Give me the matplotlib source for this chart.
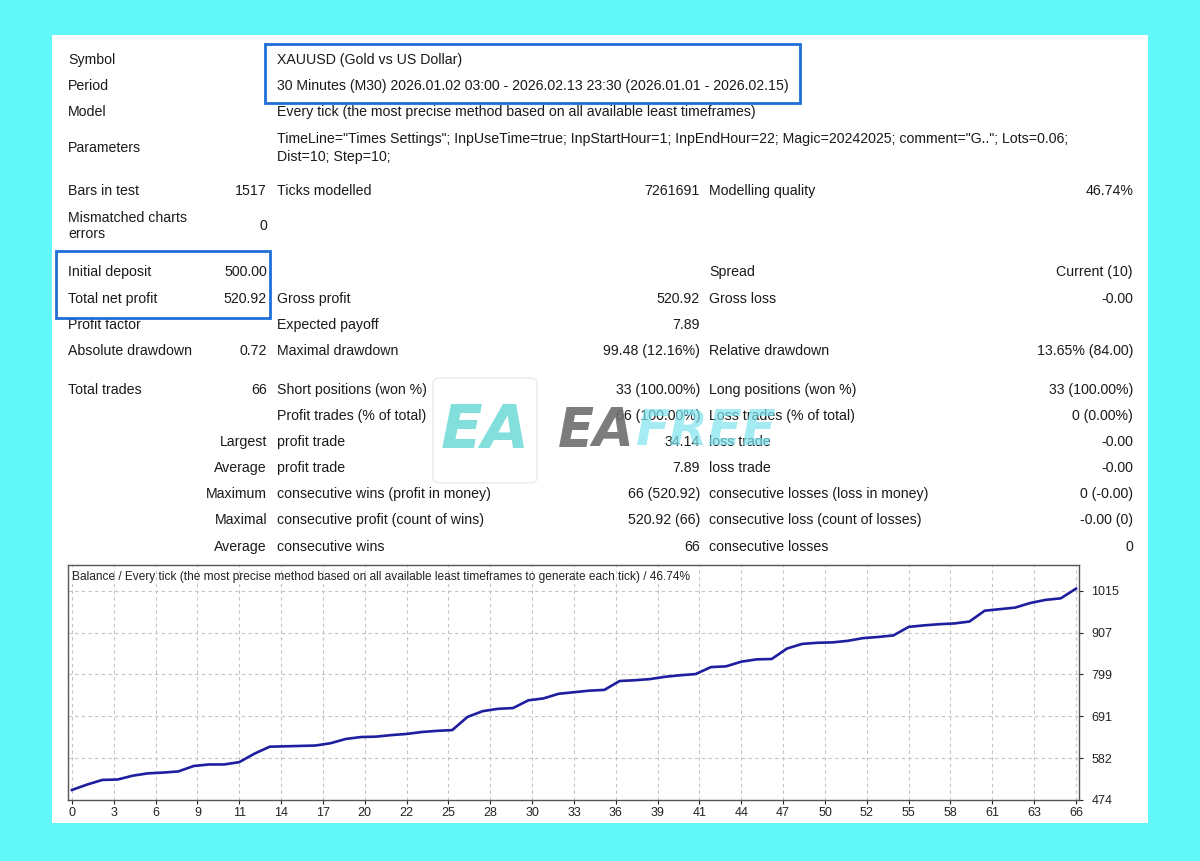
import matplotlib
matplotlib.use("Agg")
import matplotlib.pyplot as plt
from matplotlib.patches import Rectangle, FancyBboxPatch

W, H = 1200, 861
plt.rcParams['font.family'] = ['Liberation Sans', 'DejaVu Sans']

# ---------------- data ----------------
balance = [500.0, 514, 526, 527, 537, 543, 545, 548, 562, 566, 566, 572, 594, 612, 613,
           614, 615, 621, 632, 637, 638, 642, 645, 650, 653, 655, 689, 704, 710, 712,
           732, 737, 749, 753, 757, 759, 782, 784, 787, 793, 797, 800, 818, 820, 832,
           838, 839, 866, 878, 881, 882, 886, 893, 896, 900, 922, 926, 929, 931, 936,
           964, 968, 972, 984, 992, 996, 1020.92]
x_tick_labels = ["0", "3", "6", "9", "11", "14", "17", "20", "22", "25", "28", "30", "33",
                 "36", "39", "41", "44", "47", "50", "52", "55", "58", "61", "63", "66"]
y_ticks = [474, 582, 691, 799, 907, 1015]

header_labels = ["Symbol", "Period", "Model", "Parameters"]
header_values = ["XAUUSD (Gold vs US Dollar)",
                 "30 Minutes (M30) 2026.01.02 03:00 - 2026.02.13 23:30 (2026.01.01 - 2026.02.15)",
                 "Every tick (the most precise method based on all available least timeframes)",
                 "TimeLine=\"Times Settings\"; InpUseTime=true; InpStartHour=1; InpEndHour=22; Magic=20242025; comment=\"G..\"; Lots=0.06;\nDist=10; Step=10;"]

# rows: (label1, value1, label2, value2, label3, value3)
stat_rows = [
    ("Bars in test", "1517", "Ticks modelled", "7261691", "Modelling quality", "46.74%"),
    ("Mismatched charts\nerrors", "0", "", "", "", ""),
    ("Initial deposit", "500.00", "", "", "Spread", "Current (10)"),
    ("Total net profit", "520.92", "Gross profit", "520.92", "Gross loss", "-0.00"),
    ("Profit factor", "", "Expected payoff", "7.89", "", ""),
    ("Absolute drawdown", "0.72", "Maximal drawdown", "99.48 (12.16%)", "Relative drawdown", "13.65% (84.00)"),
    ("Total trades", "66", "Short positions (won %)", "33 (100.00%)", "Long positions (won %)", "33 (100.00%)"),
    ("", "", "Profit trades (% of total)", "66 (100.00%)", "Loss trades (% of total)", "0 (0.00%)"),
]
right_rows = [
    ("Largest", "profit trade", "34.14", "loss trade", "-0.00"),
    ("Average", "profit trade", "7.89", "loss trade", "-0.00"),
    ("Maximum", "consecutive wins (profit in money)", "66 (520.92)", "consecutive losses (loss in money)", "0 (-0.00)"),
    ("Maximal", "consecutive profit (count of wins)", "520.92 (66)", "consecutive loss (count of losses)", "-0.00 (0)"),
    ("Average", "consecutive wins", "66", "consecutive losses", "0"),
]
chart_title = "Balance / Every tick (the most precise method based on all available least timeframes to generate each tick) / 46.74%"

# ---------------- figure ----------------
fig = plt.figure(figsize=(W / 100, H / 100), dpi=100)
fig.patch.set_facecolor('#62F8FA')

def fx(x):
    return x / W

def fy(y):
    return 1 - y / H

# white card
fig.patches.append(Rectangle((fx(52), fy(823)), fx(1148) - fx(52), fy(35) - fy(823),
                             transform=fig.transFigure, facecolor='white', edgecolor='none', zorder=-5))

FS = 10.2
TC = '#1a1a1a'

def txt(x, y, s, ha='left', **kw):
    fig.text(fx(x), fy(y), s, ha=ha, va='center', fontsize=kw.pop('fontsize', FS), color=kw.pop('color', TC), **kw)

C1L, C1R, C2L, C2R, C3L, C3R = 68, 267, 277, 700, 709, 1133

header_y = [60, 86, 112, 148]
for lab, val, y in zip(header_labels, header_values, header_y):
    txt(C1L, y, lab)
    txt(C2L, y, val, linespacing=1.35)

stat_y = [191, 226, 272, 299, 325, 351, 390, 416]
for row, y in zip(stat_rows, stat_y):
    l1, v1, l2, v2, l3, v3 = row
    txt(C1L, y, l1, linespacing=1.2)
    txt(C1R, y, v1, ha='right')
    txt(C2L, y, l2)
    txt(C2R, y, v2, ha='right')
    txt(C3L, y, l3)
    txt(C3R, y, v3, ha='right')

right_y = [442, 468, 494, 520, 547]
for row, y in zip(right_rows, right_y):
    a, l2, v2, l3, v3 = row
    txt(C1R, y, a, ha='right')
    txt(C2L, y, l2)
    txt(C2R, y, v2, ha='right')
    txt(C3L, y, l3)
    txt(C3R, y, v3, ha='right')

# blue highlight boxes
for (x0, y0, x1, y1) in [(265, 44, 800, 103), (56, 251, 270, 318)]:
    fig.patches.append(Rectangle((fx(x0), fy(y1)), fx(x1) - fx(x0), fy(y0) - fy(y1),
                                 transform=fig.transFigure, facecolor='none',
                                 edgecolor='#1f6fd8', linewidth=2.0, zorder=5))

# watermark
fig.patches.append(FancyBboxPatch((fx(433), fy(483)), fx(537) - fx(433), fy(378) - fy(483),
                                  boxstyle="round,pad=0,rounding_size=0.006",
                                  transform=fig.transFigure, facecolor='white', alpha=0.85,
                                  edgecolor='#e6e6e6', linewidth=1.0, zorder=6))
fig.text(fx(485), fy(431), "EA", ha='center', va='center', fontsize=44, fontweight='bold',
         fontstyle='italic', color='#74dcd8', alpha=0.9, zorder=7, family='DejaVu Sans')
fig.text(fx(558), fy(431), "EA", ha='left', va='center', fontsize=38, fontweight='bold',
         fontstyle='italic', color='#6e6e6e', alpha=0.9, zorder=7, family='DejaVu Sans')
fig.text(fx(636), fy(431), "FREE", ha='left', va='center', fontsize=36, fontweight='bold',
         fontstyle='italic', color='#7fe3ee', alpha=0.7, zorder=7, family='DejaVu Sans')

# ---------------- balance chart ----------------
ax = fig.add_axes([fx(68), fy(800), fx(1079) - fx(68), fy(565) - fy(800)])
ax.set_facecolor('white')
xs = list(range(len(balance)))
ax.plot(xs, balance, color='#1e1e9e', linewidth=1.9, solid_joinstyle='round', zorder=3)
ax.set_xlim(-0.26, 66.2)
ax.set_ylim(474, 1082.3)
n = len(x_tick_labels) - 1
xt = [i * 66 / n for i in range(n + 1)]
ax.set_xticks(xt)
ax.set_xticklabels(x_tick_labels)
ax.yaxis.tick_right()
ax.set_yticks(y_ticks)
ax.set_yticklabels([str(v) for v in y_ticks])
ax.tick_params(axis='both', labelsize=9, colors='#222222', length=3, width=0.8, pad=2)
ax.tick_params(axis='y', pad=6)
ax.grid(True, color='#c4c4c4', linestyle=(0, (3, 3)), linewidth=0.8)
for s in ax.spines.values():
    s.set_color('#555555')
    s.set_linewidth(1.0)
ax.text(0.004, 0.95, chart_title, transform=ax.transAxes, ha='left', va='center',
        fontsize=8.6, color='#222222')

fig.savefig("out.png", dpi=100, facecolor=fig.get_facecolor())
